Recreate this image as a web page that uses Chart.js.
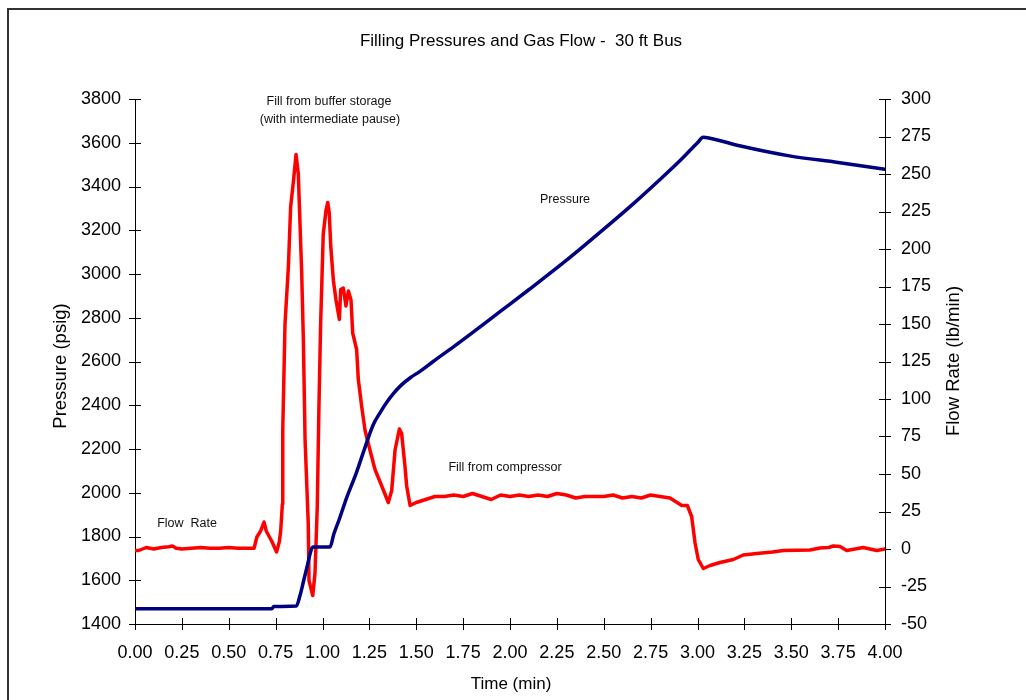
<!DOCTYPE html>
<html>
<head>
<meta charset="utf-8">
<title>Filling Pressures and Gas Flow - 30 ft Bus</title>
<script src="https://cdn.jsdelivr.net/npm/chart.js@4/dist/chart.umd.min.js"></script>
<style>
  html, body { margin: 0; padding: 0; background: #fff; }
  #wrap { position: relative; width: 1026px; height: 700px; }
</style>
</head>
<body>
<div id="wrap"><canvas id="chart" width="1026" height="700"></canvas></div>
<script>
// Tank pressure (psig) against time (min)
const pressureTime = [0.00, 0.73, 0.74, 0.86, 0.88, 0.90, 0.92, 0.94, 0.95, 1.04, 1.06, 1.09, 1.13, 1.18, 1.22, 1.27, 1.31, 1.34, 1.38, 1.42, 1.47, 1.52, 1.59, 1.70, 1.80, 1.95, 2.10, 2.30, 2.50, 2.66, 2.80, 2.91, 3.00, 3.03, 3.06, 3.23, 3.49, 3.75, 4.00];
const pressureValues = [1470, 1470, 1480, 1482, 1530, 1600, 1670, 1740, 1752, 1752, 1810, 1880, 1980, 2090, 2190, 2310, 2370, 2410, 2455, 2492, 2527, 2555, 2600, 2668, 2732, 2830, 2928, 3062, 3205, 3323, 3432, 3521, 3600, 3625, 3622, 3585, 3540, 3510, 3479];

// Gas flow rate (lb/min) against time (min)
const flowTime = [0.00, 0.02, 0.04, 0.06, 0.08, 0.10, 0.14, 0.18, 0.20, 0.22, 0.25, 0.30, 0.35, 0.40, 0.45, 0.50, 0.55, 0.60, 0.635, 0.65, 0.67, 0.688, 0.70, 0.73, 0.755, 0.77, 0.777, 0.786, 0.788, 0.80, 0.818, 0.83, 0.844, 0.859, 0.871, 0.88, 0.889, 0.898, 0.907, 0.924, 0.928, 0.948, 0.96, 0.972, 0.981, 0.99, 1.004, 1.019, 1.028, 1.036, 1.044, 1.058, 1.072, 1.09, 1.097, 1.111, 1.125, 1.138, 1.152, 1.161, 1.182, 1.191, 1.209, 1.227, 1.253, 1.28, 1.316, 1.351, 1.369, 1.387, 1.41, 1.422, 1.44, 1.449, 1.467, 1.50, 1.55, 1.60, 1.65, 1.70, 1.75, 1.80, 1.85, 1.90, 1.95, 2.00, 2.05, 2.10, 2.15, 2.20, 2.25, 2.30, 2.35, 2.40, 2.45, 2.50, 2.55, 2.60, 2.65, 2.70, 2.75, 2.80, 2.853, 2.916, 2.946, 2.969, 2.987, 3.004, 3.031, 3.067, 3.12, 3.191, 3.244, 3.316, 3.40, 3.458, 3.60, 3.653, 3.70, 3.724, 3.76, 3.796, 3.84, 3.884, 3.92, 3.956, 4.00];
const flowValues = [-1, -1, 0, 1, 0.5, 0, 1, 1.5, 2, 0.5, 0, 0.5, 1, 0.5, 0.5, 1, 0.5, 0.5, 0.5, 8, 12, 18, 12, 5, -2, 5, 12, 30, 79, 150, 188, 228, 244, 263, 250, 217, 184, 139, 73, 17, -21, -31, -16, 28, 95, 150, 210, 226, 231, 224, 202, 179, 166, 153, 173, 174, 162, 172, 166, 144, 133, 113, 95, 79, 66, 53, 42, 31, 39, 66, 80, 77, 55, 42, 29, 31, 33, 35, 35, 36, 35, 37, 35, 33, 36, 35, 36, 35, 36, 35, 37, 36, 34, 35, 35, 35, 36, 34, 35, 34, 36, 35, 34, 29, 29, 21.5, 4, -7, -13, -11, -9, -7, -4, -3, -2, -1, -0.7, 0.7, 1, 2, 1.6, -1, 0, 1, 0, -1, 0];

// Axis ranges and tick steps
const timeTicks = [0, 4, 0.25];
const pressureTicks = [1400, 3800, 200];
const flowTicks = [-50, 300, 25];

// Text drawn on the chart
const chartTitle = 'Filling Pressures and Gas Flow -  30 ft Bus';
const xTitle = 'Time (min)';
const yLeftTitle = 'Pressure (psig)';
const yRightTitle = 'Flow Rate (lb/min)';
const notes = [
  { text: 'Fill from buffer storage', x: 329, y: 102 },
  { text: '(with intermediate pause)', x: 330, y: 120 },
  { text: 'Pressure', x: 565, y: 200 },
  { text: 'Fill from compressor', x: 505, y: 468 },
  { text: 'Flow  Rate', x: 187, y: 524 }
];

const FONT = '"Liberation Sans", Arial, Helvetica, sans-serif';

const pts = (xs, ys) => xs.map((x, i) => ({ x: x, y: ys[i] }));

// Frame, axis lines, crossing tick marks and free text
const decorations = {
  id: 'decorations',
  beforeDatasetsDraw(chart) {
    const ctx = chart.ctx;
    const { x, y, y2 } = chart.scales;
    ctx.save();
    ctx.strokeStyle = '#000';
    ctx.lineWidth = 1;
    ctx.beginPath();
    // axis lines
    ctx.moveTo(x.left, y.bottom + 0.5); ctx.lineTo(x.right, y.bottom + 0.5);
    ctx.moveTo(Math.round(x.left) + 0.5, y.top); ctx.lineTo(Math.round(x.left) + 0.5, y.bottom);
    ctx.moveTo(Math.round(x.right) + 0.5, y.top); ctx.lineTo(Math.round(x.right) + 0.5, y.bottom);
    const T = 6;
    x.ticks.forEach(t => {
      const px = Math.round(x.getPixelForValue(t.value)) + 0.5;
      ctx.moveTo(px, y.bottom - T); ctx.lineTo(px, y.bottom + T);
    });
    y.ticks.forEach(t => {
      const py = Math.round(y.getPixelForValue(t.value)) + 0.5;
      ctx.moveTo(x.left - T, py); ctx.lineTo(x.left + T, py);
    });
    y2.ticks.forEach(t => {
      const py = Math.round(y2.getPixelForValue(t.value)) + 0.5;
      ctx.moveTo(x.right - T, py); ctx.lineTo(x.right + T, py);
    });
    ctx.stroke();
    ctx.restore();
  },
  afterDraw(chart) {
    const ctx = chart.ctx;
    ctx.save();
    // outer frame
    ctx.strokeStyle = '#333';
    ctx.lineWidth = 2;
    ctx.strokeRect(8, 9, 1040, 720);

    ctx.fillStyle = '#000';
    ctx.textAlign = 'center';
    ctx.textBaseline = 'middle';
    ctx.font = '17px ' + FONT;
    ctx.fillText(chartTitle, 521, 41);

    ctx.font = '17px ' + FONT;
    ctx.fillText(xTitle, 511, 684);
    ctx.font = '18.5px ' + FONT;
    ctx.save();
    ctx.translate(61, 366);
    ctx.rotate(-Math.PI / 2);
    ctx.fillText(yLeftTitle, 0, 0);
    ctx.restore();
    ctx.save();
    ctx.translate(954, 361);
    ctx.rotate(-Math.PI / 2);
    ctx.fillText(yRightTitle, 0, 0);
    ctx.restore();

    ctx.font = '12.5px ' + FONT;
    ctx.fillStyle = '#111';
    notes.forEach(n => ctx.fillText(n.text, n.x, n.y));
    ctx.restore();
  }
};

new Chart(document.getElementById('chart'), {
  type: 'line',
  data: {
    datasets: [
      {
        label: 'Pressure',
        data: pts(pressureTime, pressureValues),
        yAxisID: 'y',
        borderColor: '#000080',
        borderWidth: 3.5,
        borderJoinStyle: 'round',
        borderCapStyle: 'round',
        cubicInterpolationMode: 'monotone',
        pointRadius: 0,
        fill: false
      },
      {
        label: 'Flow Rate',
        data: pts(flowTime, flowValues),
        yAxisID: 'y2',
        borderColor: '#ff0000',
        borderWidth: 3.5,
        borderJoinStyle: 'round',
        borderCapStyle: 'round',
        pointRadius: 0,
        tension: 0,
        fill: false
      }
    ]
  },
  options: {
    responsive: false,
    animation: false,
    events: [],
    layout: { padding: { top: 99, left: 0, right: 0, bottom: 0 } },
    plugins: { legend: { display: false }, title: { display: false }, tooltip: { enabled: false } },
    scales: {
      x: {
        type: 'linear',
        min: timeTicks[0], max: timeTicks[1],
        grid: { display: false, drawTicks: false },
        border: { display: false },
        ticks: {
          stepSize: timeTicks[2],
          color: '#000',
          font: { family: FONT, size: 18 },
          padding: 18,
          maxRotation: 0,
          autoSkip: false,
          callback: v => Number(v).toFixed(2)
        },
        afterFit: s => { s.height = 76; }
      },
      y: {
        type: 'linear',
        position: 'left',
        min: pressureTicks[0], max: pressureTicks[1],
        grid: { display: false, drawTicks: false },
        border: { display: false },
        ticks: {
          stepSize: pressureTicks[2],
          color: '#000',
          font: { family: FONT, size: 18 },
          padding: 14,
          callback: v => String(v)
        },
        afterFit: s => { s.width = 135; }
      },
      y2: {
        type: 'linear',
        position: 'right',
        min: flowTicks[0], max: flowTicks[1],
        grid: { display: false, drawTicks: false },
        border: { display: false },
        ticks: {
          stepSize: flowTicks[2],
          color: '#000',
          font: { family: FONT, size: 18 },
          padding: 16,
          callback: v => String(v)
        },
        afterFit: s => { s.width = 141; }
      }
    }
  },
  plugins: [decorations]
});
</script>
</body>
</html>
